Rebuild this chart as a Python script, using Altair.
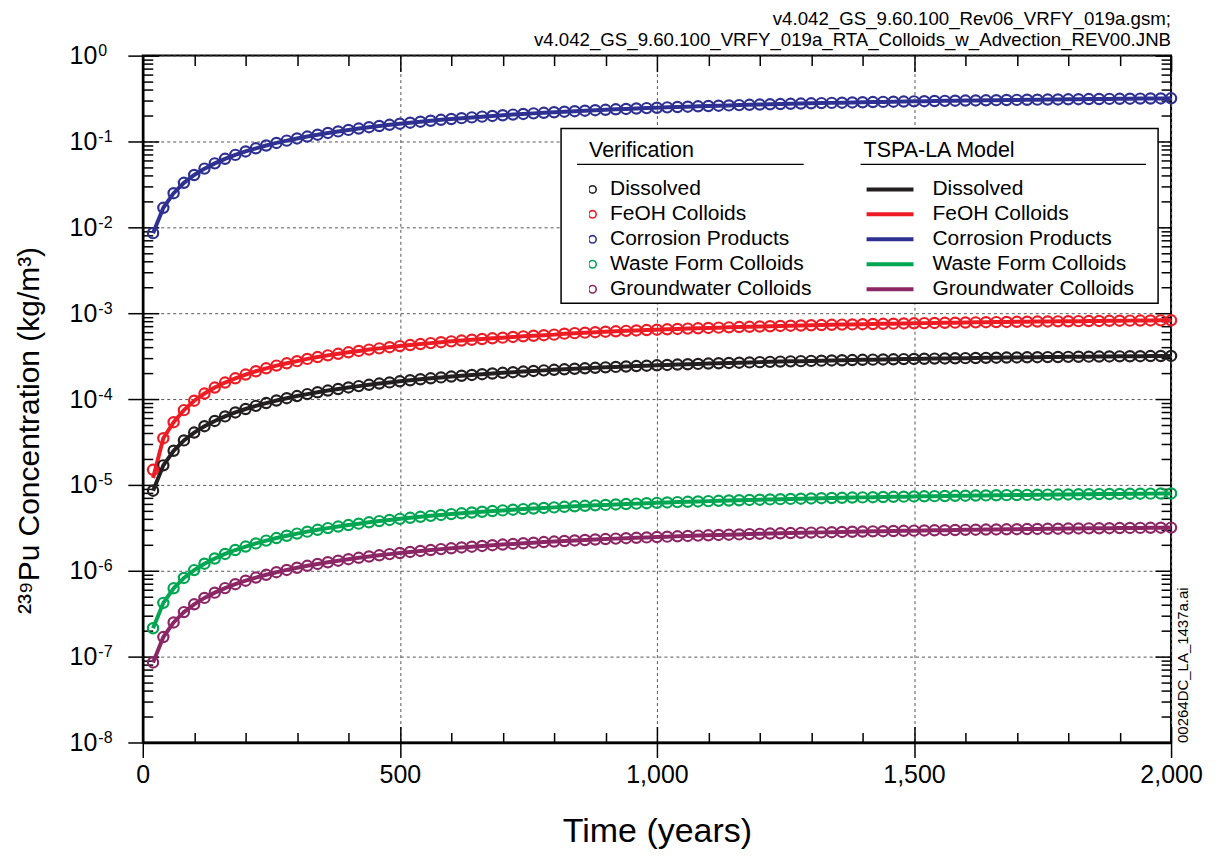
import altair as alt
import pandas as pd

FONT = "Liberation Sans"

years = list(range(20, 2001, 20))
series_names = ["Dissolved", "FeOH Colloids", "Corrosion Products",
                "Waste Form Colloids", "Groundwater Colloids"]
series_colors = ["#231f20", "#ed1c24", "#2e3192", "#00a651", "#8c2766"]

dissolved = [
    8.56e-6, 1.69e-5, 2.50e-5, 3.30e-5, 4.07e-5, 4.83e-5, 5.56e-5, 6.28e-5, 6.98e-5, 7.66e-5,
    8.33e-5, 8.98e-5, 9.62e-5, 1.023e-4, 1.084e-4, 1.142e-4, 1.200e-4, 1.256e-4, 1.310e-4, 1.364e-4,
    1.415e-4, 1.466e-4, 1.515e-4, 1.563e-4, 1.610e-4, 1.656e-4, 1.701e-4, 1.744e-4, 1.787e-4, 1.828e-4,
    1.869e-4, 1.908e-4, 1.947e-4, 1.984e-4, 2.020e-4, 2.056e-4, 2.091e-4, 2.125e-4, 2.158e-4, 2.190e-4,
    2.222e-4, 2.253e-4, 2.282e-4, 2.312e-4, 2.340e-4, 2.368e-4, 2.395e-4, 2.421e-4, 2.447e-4, 2.472e-4,
    2.497e-4, 2.521e-4, 2.544e-4, 2.567e-4, 2.589e-4, 2.611e-4, 2.632e-4, 2.652e-4, 2.672e-4, 2.692e-4,
    2.711e-4, 2.730e-4, 2.748e-4, 2.765e-4, 2.783e-4, 2.800e-4, 2.816e-4, 2.832e-4, 2.848e-4, 2.863e-4,
    2.878e-4, 2.892e-4, 2.906e-4, 2.920e-4, 2.934e-4, 2.947e-4, 2.960e-4, 2.972e-4, 2.984e-4, 2.996e-4,
    3.008e-4, 3.019e-4, 3.030e-4, 3.041e-4, 3.051e-4, 3.061e-4, 3.071e-4, 3.081e-4, 3.090e-4, 3.100e-4,
    3.109e-4, 3.118e-4, 3.126e-4, 3.134e-4, 3.143e-4, 3.151e-4, 3.158e-4, 3.166e-4, 3.173e-4, 3.181e-4,
]

feoh = [
    1.50e-5, 3.50e-5, 5.38e-5, 7.43e-5, 9.56e-5, 1.159e-4, 1.362e-4, 1.557e-4, 1.745e-4, 1.930e-4,
    2.107e-4, 2.281e-4, 2.453e-4, 2.609e-4, 2.764e-4, 2.935e-4, 3.084e-4, 3.228e-4, 3.367e-4, 3.505e-4,
    3.637e-4, 3.768e-4, 3.894e-4, 4.017e-4, 4.138e-4, 4.256e-4, 4.372e-4, 4.482e-4, 4.593e-4, 4.698e-4,
    4.803e-4, 4.904e-4, 5.004e-4, 5.099e-4, 5.191e-4, 5.284e-4, 5.374e-4, 5.461e-4, 5.546e-4, 5.628e-4,
    5.777e-4, 5.858e-4, 5.933e-4, 6.011e-4, 6.084e-4, 6.157e-4, 6.227e-4, 6.295e-4, 6.362e-4, 6.427e-4,
    6.492e-4, 6.555e-4, 6.614e-4, 6.674e-4, 6.731e-4, 6.789e-4, 6.843e-4, 6.895e-4, 6.947e-4, 6.999e-4,
    7.049e-4, 7.098e-4, 7.145e-4, 7.189e-4, 7.236e-4, 7.280e-4, 7.322e-4, 7.363e-4, 7.405e-4, 7.444e-4,
    7.483e-4, 7.519e-4, 7.556e-4, 7.592e-4, 7.628e-4, 7.662e-4, 7.696e-4, 7.727e-4, 7.758e-4, 7.790e-4,
    7.821e-4, 7.849e-4, 7.878e-4, 7.907e-4, 7.933e-4, 7.959e-4, 7.985e-4, 8.011e-4, 8.034e-4, 8.060e-4,
    8.083e-4, 8.107e-4, 8.128e-4, 8.148e-4, 8.172e-4, 8.193e-4, 8.211e-4, 8.232e-4, 8.250e-4, 8.271e-4,
]

corrosion = [
    8.56e-3, 1.69e-2, 2.50e-2, 3.30e-2, 4.07e-2, 4.83e-2, 5.56e-2, 6.28e-2, 6.98e-2, 7.66e-2,
    8.33e-2, 8.98e-2, 9.62e-2, 0.1023, 0.1084, 0.1142, 0.1200, 0.1256, 0.1310, 0.1364,
    0.1415, 0.1466, 0.1515, 0.1563, 0.1610, 0.1656, 0.1701, 0.1744, 0.1787, 0.1828,
    0.1869, 0.1908, 0.1947, 0.1984, 0.2020, 0.2056, 0.2091, 0.2125, 0.2158, 0.2190,
    0.2222, 0.2253, 0.2282, 0.2312, 0.2340, 0.2368, 0.2395, 0.2421, 0.2447, 0.2472,
    0.2497, 0.2521, 0.2544, 0.2567, 0.2589, 0.2611, 0.2632, 0.2652, 0.2672, 0.2692,
    0.2711, 0.2730, 0.2748, 0.2765, 0.2783, 0.2800, 0.2816, 0.2832, 0.2848, 0.2863,
    0.2878, 0.2892, 0.2906, 0.2920, 0.2934, 0.2947, 0.2960, 0.2972, 0.2984, 0.2996,
    0.3008, 0.3019, 0.3030, 0.3041, 0.3051, 0.3061, 0.3071, 0.3081, 0.3090, 0.3100,
    0.3109, 0.3118, 0.3126, 0.3134, 0.3143, 0.3151, 0.3158, 0.3166, 0.3173, 0.3181,
]

waste = [
    2.14e-7, 4.23e-7, 6.25e-7, 8.25e-7, 1.018e-6, 1.208e-6, 1.390e-6, 1.570e-6, 1.745e-6, 1.915e-6,
    2.083e-6, 2.245e-6, 2.405e-6, 2.558e-6, 2.710e-6, 2.855e-6, 3.000e-6, 3.140e-6, 3.275e-6, 3.410e-6,
    3.538e-6, 3.665e-6, 3.788e-6, 3.908e-6, 4.025e-6, 4.140e-6, 4.253e-6, 4.360e-6, 4.468e-6, 4.570e-6,
    4.673e-6, 4.770e-6, 4.868e-6, 4.960e-6, 5.050e-6, 5.140e-6, 5.228e-6, 5.313e-6, 5.395e-6, 5.475e-6,
    5.555e-6, 5.633e-6, 5.705e-6, 5.780e-6, 5.850e-6, 5.920e-6, 5.988e-6, 6.053e-6, 6.118e-6, 6.180e-6,
    6.243e-6, 6.303e-6, 6.360e-6, 6.418e-6, 6.473e-6, 6.528e-6, 6.580e-6, 6.630e-6, 6.680e-6, 6.730e-6,
    6.778e-6, 6.825e-6, 6.870e-6, 6.913e-6, 6.958e-6, 7.000e-6, 7.040e-6, 7.080e-6, 7.120e-6, 7.158e-6,
    7.195e-6, 7.230e-6, 7.265e-6, 7.300e-6, 7.335e-6, 7.368e-6, 7.400e-6, 7.430e-6, 7.460e-6, 7.490e-6,
    7.520e-6, 7.548e-6, 7.575e-6, 7.603e-6, 7.628e-6, 7.653e-6, 7.678e-6, 7.703e-6, 7.725e-6, 7.750e-6,
    7.773e-6, 7.795e-6, 7.815e-6, 7.835e-6, 7.858e-6, 7.878e-6, 7.895e-6, 7.915e-6, 7.933e-6, 7.953e-6,
]

groundwater = [
    8.56e-8, 1.69e-7, 2.50e-7, 3.30e-7, 4.07e-7, 4.83e-7, 5.56e-7, 6.28e-7, 6.98e-7, 7.66e-7,
    8.33e-7, 8.98e-7, 9.62e-7, 1.023e-6, 1.084e-6, 1.142e-6, 1.200e-6, 1.256e-6, 1.310e-6, 1.364e-6,
    1.415e-6, 1.466e-6, 1.515e-6, 1.563e-6, 1.610e-6, 1.656e-6, 1.701e-6, 1.744e-6, 1.787e-6, 1.828e-6,
    1.869e-6, 1.908e-6, 1.947e-6, 1.984e-6, 2.020e-6, 2.056e-6, 2.091e-6, 2.125e-6, 2.158e-6, 2.190e-6,
    2.222e-6, 2.253e-6, 2.282e-6, 2.312e-6, 2.340e-6, 2.368e-6, 2.395e-6, 2.421e-6, 2.447e-6, 2.472e-6,
    2.497e-6, 2.521e-6, 2.544e-6, 2.567e-6, 2.589e-6, 2.611e-6, 2.632e-6, 2.652e-6, 2.672e-6, 2.692e-6,
    2.711e-6, 2.730e-6, 2.748e-6, 2.765e-6, 2.783e-6, 2.800e-6, 2.816e-6, 2.832e-6, 2.848e-6, 2.863e-6,
    2.878e-6, 2.892e-6, 2.906e-6, 2.920e-6, 2.934e-6, 2.947e-6, 2.960e-6, 2.972e-6, 2.984e-6, 2.996e-6,
    3.008e-6, 3.019e-6, 3.030e-6, 3.041e-6, 3.051e-6, 3.061e-6, 3.071e-6, 3.081e-6, 3.090e-6, 3.100e-6,
    3.109e-6, 3.118e-6, 3.126e-6, 3.134e-6, 3.143e-6, 3.151e-6, 3.158e-6, 3.166e-6, 3.173e-6, 3.181e-6,
]

# TSPA-LA model line: same as verification except the FeOH first point
feoh_model = [1.2e-5] + feoh[1:]

x_major = [0, 500, 1000, 1500, 2000]
x_minor = list(range(0, 2001, 100))
y_major = [1e-8, 1e-7, 1e-6, 1e-5, 1e-4, 1e-3, 1e-2, 1e-1, 1.0]
y_minor = [m * 10.0 ** e for e in range(-8, 0) for m in range(1, 10)] + [1.0]

header_lines = ["v4.042_GS_9.60.100_Rev06_VRFY_019a.gsm;",
                "v4.042_GS_9.60.100_VRFY_019a_RTA_Colloids_w_Advection_REV00.JNB"]
figure_id = "00264DC_LA_1437a.ai"

ver_vals = [dissolved, feoh, corrosion, waste, groundwater]
mod_vals = [dissolved, feoh_model, corrosion, waste, groundwater]
rows = []
for name, vv, mv in zip(series_names, ver_vals, mod_vals):
    for t, v, m in zip(years, vv, mv):
        rows.append({"year": t, "series": name, "ver": v, "model": m})
df = pd.DataFrame(rows)

W, H = 1030, 688
xs = alt.Scale(domain=[0, 2000], nice=False, zero=False)
ys = alt.Scale(type="log", domain=[1e-8, 1], nice=False)
line_scale = alt.Scale(domain=series_names, range=series_colors)
point_scale = alt.Scale(range=series_colors)

x_tick_cond = {"condition": {"test": "datum.value % 500 === 0", "value": 16}, "value": 10}
y_tick_cond = {"condition": {"test": "abs(log(datum.value)/LN10 - round(log(datum.value)/LN10)) < 0.001",
                             "value": 16}, "value": 10}

common_ticks = dict(labels=False, domain=False, grid=False, ticks=True, tickColor="black",
                    tickWidth=1.5, title=None)

main_x = alt.Axis(orient="bottom", values=x_major, labelExpr="format(datum.value, ',')",
                  labelFontSize=25, labelColor="black", labelPadding=5, labelFlush=False,
                  tickSize=15, tickColor="black", tickWidth=1.5, domain=True,
                  domainColor="black", domainWidth=2.5, grid=True, gridColor="#555555",
                  gridDash=[3, 3], gridWidth=1, title="Time (years)", titleFontSize=34,
                  titleFontWeight="normal", titleColor="black", titleY=89,
                  titleBaseline="middle")
main_y = alt.Axis(orient="left", values=y_major, labelExpr="'10'", labelFontSize=25,
                  labelColor="black", labelAlign="right", labelBaseline="middle",
                  labelPadding=31, labelFlush=False, labelOverlap=False, tickSize=15,
                  tickColor="black", tickWidth=1.5, domain=True, domainColor="black",
                  domainWidth=2.5, grid=True, gridColor="#555555", gridDash=[3, 3],
                  gridWidth=1, title="²³⁹Pu Concentration (kg/m³)", titleFontSize=30,
                  titleFontWeight="normal", titleColor="black", titleAngle=270,
                  titleX=-113, titleY=375, titleAlign="center", titleBaseline="middle")
exp_y = alt.Axis(orient="left", values=y_major,
                 labelExpr="'' + round(log(datum.value)/LN10)", labelFontSize=16,
                 labelColor="black", labelAlign="left", labelBaseline="middle",
                 labelPadding=45, labelOffset=-5, labelFlush=False, labelOverlap=False,
                 ticks=False, tickSize=0, domain=False, grid=False, title=None)

model_legend = alt.Legend(title="TSPA-LA Model", orient="none", legendX=722, legendY=85,
                          symbolType="stroke", symbolSize=2209, symbolStrokeWidth=4,
                          symbolOffset=1, clipHeight=19, rowPadding=3, labelOffset=17,
                          titlePadding=18, labelFontSize=21, titleFontSize=21.5,
                          titleFontWeight="normal", labelColor="black", titleColor="black",
                          labelLimit=400, titleLimit=400, padding=0)
ver_legend = alt.Legend(title="Verification", orient="none", legendX=447, legendY=85,
                        symbolType="circle", symbolSize=55, symbolStrokeWidth=1.6,
                        symbolFillColor="transparent", symbolOffset=-7,
                        clipHeight=19, rowPadding=3, labelOffset=7, titlePadding=18,
                        labelFontSize=21, titleFontSize=21.5, titleFontWeight="normal",
                        labelColor="black", titleColor="black", labelLimit=400,
                        titleLimit=400, padding=0)

lines = alt.Chart(df).mark_line(strokeWidth=4).encode(
    x=alt.X("year:Q", scale=xs, axis=main_x),
    y=alt.Y("model:Q", scale=ys, axis=main_y),
    color=alt.Color("series:N", scale=line_scale, sort=series_names, legend=model_legend),
)

points = alt.Chart(df).mark_point(shape="circle", filled=False, size=105, strokeWidth=2.2,
                                  opacity=1).encode(
    x=alt.X("year:Q", scale=xs,
            axis=alt.Axis(orient="top", offset=-H, values=x_minor, tickSize=x_tick_cond,
                          **common_ticks)),
    y=alt.Y("ver:Q", scale=ys, axis=exp_y),
    stroke=alt.Stroke("series:N", scale=point_scale, sort=series_names, legend=ver_legend),
)

inv1 = alt.Chart(df).mark_point(opacity=0).encode(
    x=alt.X("year:Q", scale=xs,
            axis=alt.Axis(orient="bottom", offset=-H, values=x_minor, tickSize=x_tick_cond,
                          **common_ticks)),
    y=alt.Y("ver:Q", scale=ys,
            axis=alt.Axis(orient="right", offset=-W, values=y_minor, tickSize=y_tick_cond,
                          **common_ticks)),
)

inv2 = alt.Chart(df).mark_point(opacity=0).encode(
    x=alt.X("year:Q", scale=xs, axis=None),
    y=alt.Y("ver:Q", scale=ys,
            axis=alt.Axis(orient="left", offset=-W, values=y_minor, tickSize=y_tick_cond,
                          **common_ticks)),
)

inv3 = alt.Chart(df).mark_point(opacity=0).encode(
    x=alt.X("year:Q", scale=xs, axis=None),
    y=alt.Y("ver:Q", scale=ys,
            axis=alt.Axis(orient="right", labels=False, ticks=False, domain=False,
                          grid=False, title=figure_id, titleFontSize=15,
                          titleFontWeight="normal", titleColor="black", titleAngle=270,
                          titleX=11, titleY=H, titleAlign="left", titleBaseline="middle")),
)

one = pd.DataFrame({"k": [0]})
frame = alt.Chart(one).mark_rect(fill="white", stroke="black", strokeWidth=1.5).encode(
    x=alt.value(419), x2=alt.value(1017), y=alt.value(73), y2=alt.value(248))
ul1 = alt.Chart(one).mark_rule(color="black", strokeWidth=1.3).encode(
    x=alt.value(435), x2=alt.value(662), y=alt.value(109))
ul2 = alt.Chart(one).mark_rule(color="black", strokeWidth=1.3).encode(
    x=alt.value(719), x2=alt.value(1005), y=alt.value(109))

chart = alt.layer(lines, points, inv1, inv2, inv3, frame, ul1, ul2).resolve_scale(
    x="independent", y="independent", color="independent", stroke="independent"
).resolve_legend(
    color="independent", stroke="independent"
).properties(
    width=W, height=H,
    padding={"left": 135, "top": 47, "right": 40, "bottom": 110},
    autosize=alt.AutoSizeParams(type="none"),
    title=alt.TitleParams(text=header_lines, anchor="end", frame="group", fontSize=18.7,
                          fontWeight="normal", color="black", offset=6, dy=13,
                          lineHeight=21),
).configure_view(
    stroke="black", strokeWidth=2
).configure_axis(
    labelFont=FONT, titleFont=FONT
).configure_legend(
    labelFont=FONT, titleFont=FONT
).configure_title(
    font=FONT
)

chart.save("out.html", embed_options={"renderer": "svg", "actions": False})
